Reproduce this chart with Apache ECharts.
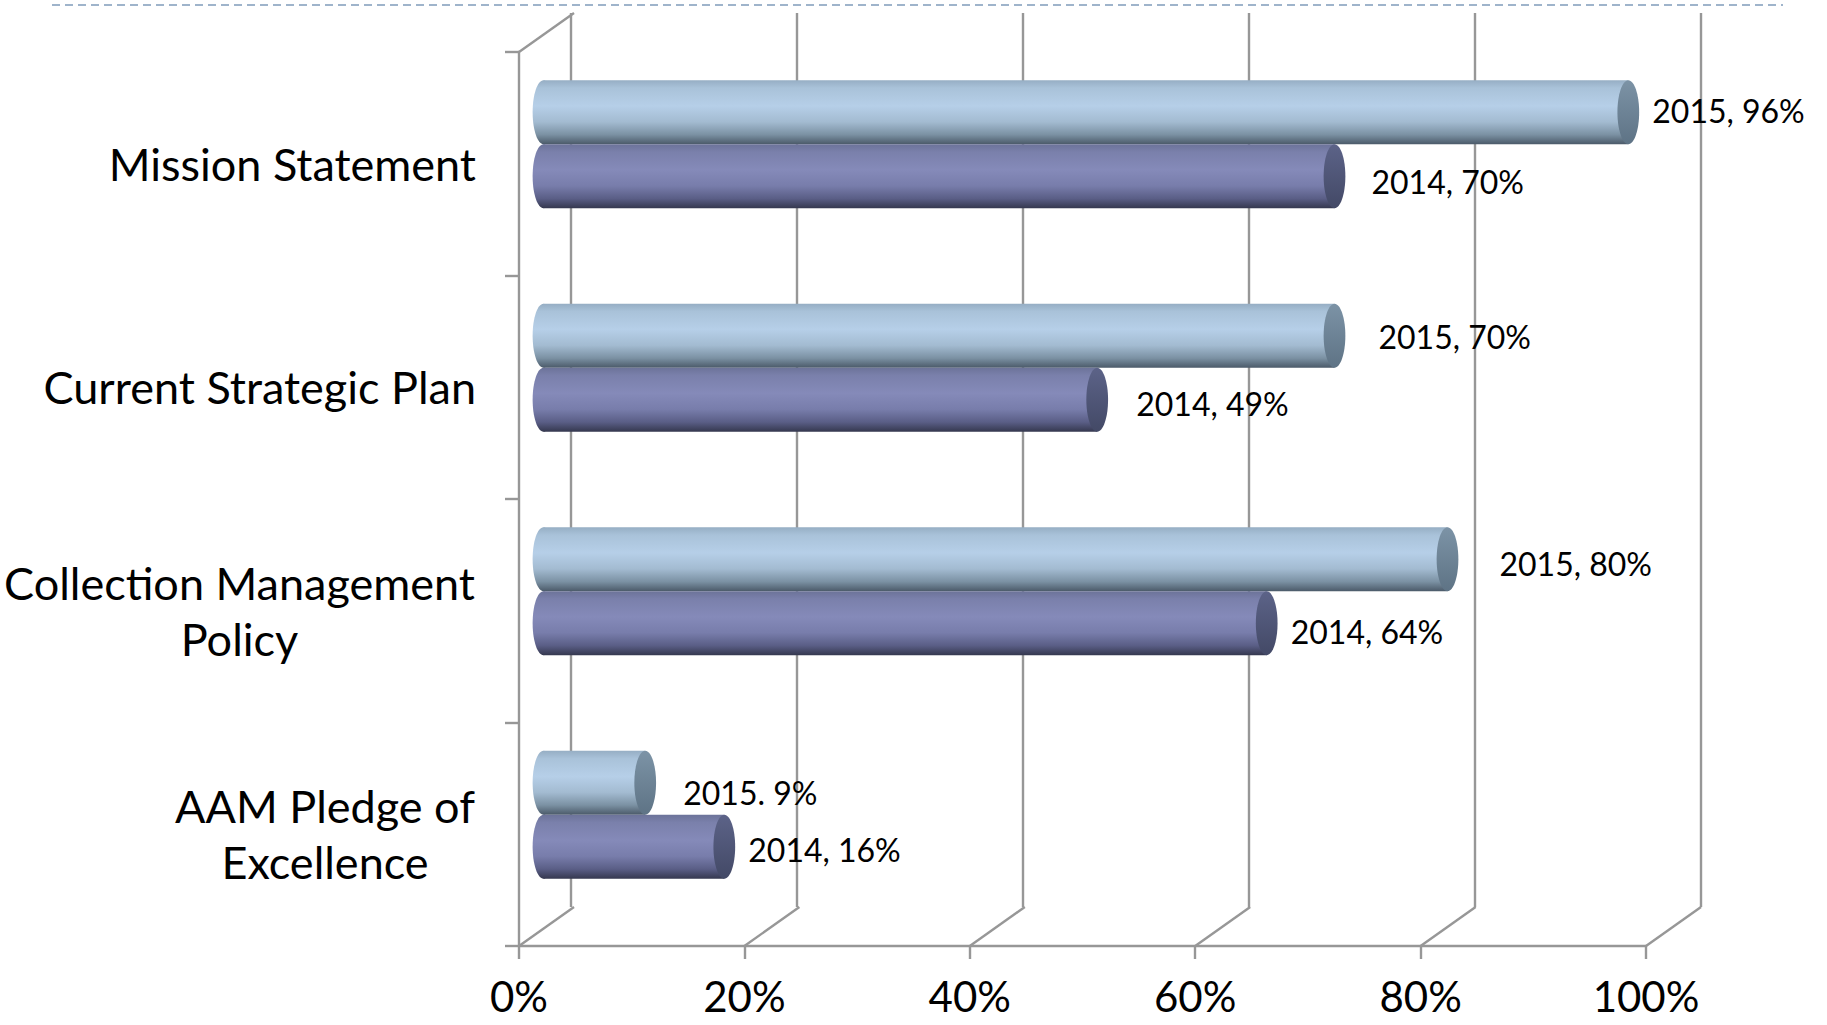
<!DOCTYPE html>
<html>
<head>
<meta charset="utf-8">
<title>Policies in place, 2014 vs 2015</title>
<script src="https://cdn.jsdelivr.net/npm/echarts@6.0.0/dist/echarts.min.js"></script>
<style>
  html, body { margin: 0; padding: 0; background: #ffffff; }
  #chart { width: 1827px; height: 1025px; }
</style>
</head>
<body>
<div id="chart"></div>
<script>
// ---- data ----
const CATEGORIES = [
  'Mission Statement',
  'Current Strategic Plan',
  'Collection Management\nPolicy',
  'AAM Pledge of\nExcellence'
];
const YEARS = ['2015', '2014'];
const VALUES_2015 = [96, 70, 80, 9];
const VALUES_2014 = [70, 49, 64, 16];
const SEP_2015 = [', ', ', ', ', ', '. '];
const SEP_2014 = [', ', ', ', ', ', ', '];
const TICK_VALUES = [0, 20, 40, 60, 80, 100];

// ---- layout / style ----
const FONT = 'Lato';
const GRID_GREY = '#979797';
const LINE_W = 2.4;
const DEPTH_X = 55;     // horizontal shift of the back wall
const DEPTH_Y = -39;    // vertical shift of the back wall
const BAR_RATIO = 0.286; // bar thickness as a share of one category band
const CAP_RATIO = 0.17;  // cap ellipse half-width relative to bar thickness

// label shift (px) from the bar's value point, per category
const LABEL_SHIFT = {
  '2015': [[24, -2], [44, 1], [52, 4], [38, 10]],
  '2014': [[37, 5], [39, 4], [24, 8], [24, 3]]
};

const BAR_STYLES = {
  '2015': {
    body: [[0, '#96aec4'], [0.12, '#a9c2d9'], [0.4, '#b6cfe8'], [0.65, '#a3bbd1'], [0.85, '#7b91a3'], [1, '#4b5a69']],
    cap: [[0, '#7c93a6'], [1, '#5e7385']]
  },
  '2014': {
    body: [[0, '#6c7399'], [0.12, '#7a80ab'], [0.4, '#858ab9'], [0.65, '#787dab'], [0.85, '#5a5e86'], [1, '#35384f']],
    cap: [[0, '#5c6388'], [1, '#434966']]
  }
};

const FRONT = { left: 516, right: 181, top: 52, bottom: 79 };
const BACK = {
  left: FRONT.left + DEPTH_X, right: FRONT.right - DEPTH_X,
  top: FRONT.top + DEPTH_Y, bottom: FRONT.bottom - DEPTH_Y
};
const MID = {
  left: FRONT.left + DEPTH_X / 2, right: FRONT.right - DEPTH_X / 2,
  top: FRONT.top + DEPTH_Y / 2, bottom: FRONT.bottom - DEPTH_Y / 2
};

// category labels: multi-line names are centred line by line
const CAT_FONT_SIZE = 45;
const measureCtx = document.createElement('canvas').getContext('2d');
measureCtx.font = CAT_FONT_SIZE + 'px ' + FONT;
const catRich = {};
CATEGORIES.forEach(function (name, i) {
  const lines = name.split('\n');
  if (lines.length > 1) {
    const w = Math.max.apply(null, lines.map(function (l) { return measureCtx.measureText(l).width; }));
    catRich['c' + i] = {
      width: Math.ceil(w) + 2, align: 'center',
      fontSize: CAT_FONT_SIZE, fontFamily: FONT, color: '#000', lineHeight: 56
    };
  }
});

function grad(stops) {
  return new echarts.graphic.LinearGradient(0, 0, 0, 1,
    stops.map(function (s) { return { offset: s[0], color: s[1] }; }));
}

function cylinderSeries(year, values, seps, slot) {
  return {
    type: 'custom',
    name: year,
    xAxisIndex: 2,
    yAxisIndex: 2,
    z: 5,
    silent: true,
    data: values.map(function (v, i) { return [v, i]; }),
    encode: { x: 0, y: 1 },
    renderItem: function (params, api) {
      const v = api.value(0);
      const cat = api.value(1);
      const end = api.coord([v, cat]);
      const start = api.coord([0, cat]);
      const band = api.size([0, 1])[1];
      const h = band * BAR_RATIO;
      const cy = end[1] + slot * h / 2;
      const rx = h * CAP_RATIO;
      const st = BAR_STYLES[year];
      const shift = LABEL_SHIFT[year][params.dataIndex];
      return {
        type: 'group',
        children: [
          { type: 'ellipse', shape: { cx: start[0], cy: cy, rx: rx, ry: h / 2 }, style: { fill: grad(st.body) } },
          { type: 'rect', shape: { x: start[0], y: cy - h / 2, width: end[0] - start[0], height: h }, style: { fill: grad(st.body) } },
          { type: 'ellipse', shape: { cx: end[0], cy: cy, rx: rx, ry: h / 2 }, style: { fill: grad(st.cap) } },
          {
            type: 'text',
            x: end[0] + shift[0],
            y: cy + shift[1],
            style: {
              text: year + seps[params.dataIndex] + v + '%',
              fontSize: 32, fontFamily: FONT, fill: '#000',
              align: 'left', verticalAlign: 'middle'
            }
          }
        ]
      };
    }
  };
}

const chart = echarts.init(document.getElementById('chart'), null, { renderer: 'svg' });

const option = {
  animation: false,
  backgroundColor: '#ffffff',
  textStyle: { fontFamily: FONT },
  graphic: [
    {
      type: 'line',
      shape: { x1: 52, y1: 5, x2: 1783, y2: 5 },
      style: { stroke: '#9fb4cb', lineWidth: 2, lineDash: [8, 5] },
      silent: true
    }
  ],
  grid: [
    { left: FRONT.left, right: FRONT.right, top: FRONT.top, bottom: FRONT.bottom },
    { left: BACK.left, right: BACK.right, top: BACK.top, bottom: BACK.bottom },
    { left: MID.left, right: MID.right, top: MID.top, bottom: MID.bottom }
  ],
  xAxis: [
    {
      gridIndex: 0, type: 'value', min: 0, max: 100, interval: 20,
      axisLine: { show: true, lineStyle: { color: GRID_GREY, width: LINE_W } },
      axisTick: { show: true, length: 13, lineStyle: { color: GRID_GREY, width: LINE_W } },
      splitLine: { show: false },
      axisLabel: {
        formatter: function (v) { return v + '%'; },
        fontSize: 42, fontFamily: FONT, color: '#000', margin: 29
      }
    },
    {
      gridIndex: 1, type: 'value', min: 0, max: 100, interval: 20,
      axisLine: { show: false }, axisTick: { show: false }, axisLabel: { show: false },
      splitLine: { show: true, showMinLine: true, showMaxLine: true, lineStyle: { color: GRID_GREY, width: LINE_W } }
    },
    { gridIndex: 2, type: 'value', min: 0, max: 100, interval: 20, show: false, splitLine: { show: false } }
  ],
  yAxis: [
    {
      gridIndex: 0, type: 'category', inverse: true, data: CATEGORIES,
      axisLine: { show: true, onZero: false, lineStyle: { color: GRID_GREY, width: LINE_W } },
      axisTick: { show: true, length: 14, lineStyle: { color: GRID_GREY, width: LINE_W } },
      splitLine: { show: false },
      axisLabel: {
        fontSize: CAT_FONT_SIZE, fontFamily: FONT, color: '#000', margin: 43,
        lineHeight: 56, align: 'right',
        formatter: function (val, idx) {
          const lines = val.split('\n');
          if (lines.length === 1) return val;
          return lines.map(function (l) { return '{c' + idx + '|' + l + '}'; }).join('\n');
        },
        rich: catRich
      }
    },
    { gridIndex: 1, type: 'category', inverse: true, data: CATEGORIES, show: false, splitLine: { show: false } },
    { gridIndex: 2, type: 'category', inverse: true, data: CATEGORIES, show: false, splitLine: { show: false } }
  ],
  series: [
    {
      // floor and side-wall edges joining the front plane to the back wall
      type: 'custom',
      xAxisIndex: 0,
      yAxisIndex: 0,
      z: 1,
      silent: true,
      data: TICK_VALUES.map(function (v) { return [v, 0]; }),
      encode: { x: 0, y: 1 },
      renderItem: function (params, api) {
        const cs = params.coordSys;
        const x = api.coord([api.value(0), 0])[0];
        const yb = cs.y + cs.height;
        const ls = { stroke: GRID_GREY, lineWidth: LINE_W };
        const children = [
          { type: 'line', shape: { x1: x, y1: yb, x2: x + DEPTH_X, y2: yb + DEPTH_Y }, style: ls }
        ];
        if (params.dataIndex === 0) {
          children.push({ type: 'line', shape: { x1: cs.x, y1: cs.y, x2: cs.x + DEPTH_X, y2: cs.y + DEPTH_Y }, style: ls });
        }
        return { type: 'group', children: children };
      }
    },
    cylinderSeries(YEARS[0], VALUES_2015, SEP_2015, -1),
    cylinderSeries(YEARS[1], VALUES_2014, SEP_2014, 1)
  ]
};

chart.setOption(option);
</script>
</body>
</html>
